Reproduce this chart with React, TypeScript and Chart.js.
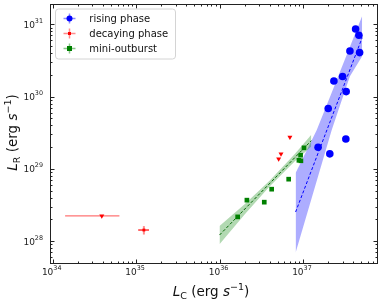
import React, { useEffect, useRef } from "react";
import { Chart, registerables } from "chart.js";
Chart.register(...registerables);

// ---- data (erg s^-1) ----
const risingLC = [4.28e37, 4.69e37, 3.66e37, 4.78e37, 2.99e37, 2.35e37, 3.3e37, 2.01e37, 3.27e37, 1.52e37, 2.1e37];
const risingLR = [8.6e30, 7.05e30, 4.28e30, 4.06e30, 1.89e30, 1.64e30, 1.17e30, 6.82e29, 2.59e29, 1.99e29, 1.61e29];

const miniLC = [1.03e37, 9.38e36, 8.95e36, 9.46e36, 6.75e36, 4.22e36, 2.13e36, 3.44e36, 1.65e36];
const miniLR = [1.95e29, 1.54e29, 1.31e29, 1.29e29, 7.18e28, 5.22e28, 3.68e28, 3.45e28, 2.16e28];

const decayLimLC = [6.98e36, 5.46e36, 5.12e36, 3.88e34];
const decayLimLR = [2.74e29, 1.61e29, 1.37e29, 2.23e28];
const decayLimLCLo = [null, null, null, 1.41e34];
const decayLimLCHi = [null, null, null, 6.31e34];

const decayDetLC = [1.24e35];
const decayDetLR = [1.42e28];
const decayDetLCLo = [1.06e35];
const decayDetLCHi = [1.43e35];
const decayDetLRLo = [1.23e28];
const decayDetLRHi = [1.61e28];

// fits and confidence bands
const risingFitLC = [8.17e36, 5.13e37];
const risingFitLR = [2.52e28, 6.53e30];
const risingBandLC = [8.17e36, 1.46e37, 2.21e37, 2.82e37, 3.66e37, 5.13e37];
const risingBandHi = [8.77e28, 3.42e29, 1.13e30, 2.29e30, 4.88e30, 1.3e31];
const risingBandLo = [6.87e27, 6.71e28, 3.42e29, 7.87e29, 1.91e30, 3.61e30];

const miniFitLC = [1.0e36, 1.26e37];
const miniFitLR = [1.21e28, 2.45e29];
const miniBandLC = [1.0e36, 2.0e36, 3.98e36, 7.94e36, 1.26e37];
const miniBandHi = [1.61e28, 3.22e28, 6.84e28, 1.59e29, 2.95e29];
const miniBandLo = [9.04e27, 2.33e28, 5.69e28, 1.26e29, 2.04e29];

// axis limits and ticks
const xMin = Math.pow(10, 33.968);
const xMax = Math.pow(10, 37.9);
const yMin = Math.pow(10, 27.682);
const yMax = Math.pow(10, 31.281);
const xTickExps = [34, 35, 36, 37];
const yTickExps = [28, 29, 30, 31];

const legendLabels = ["rising phase", "decaying phase", "mini-outburst"];

const F = "'DejaVu Sans', sans-serif";
const pts = (xs: number[], ys: number[]) => xs.map((x, i) => ({ x, y: ys[i] }));

function drawPow(ctx: CanvasRenderingContext2D, x: number, y: number, exp: string, align: string) {
  ctx.font = `9px ${F}`;
  const wb = ctx.measureText("10").width;
  ctx.font = `6.4px ${F}`;
  const we = ctx.measureText(exp).width;
  const total = wb + we;
  const sx = align === "center" ? x - total / 2 : x - total;
  ctx.textAlign = "left";
  ctx.textBaseline = "alphabetic";
  ctx.font = `9px ${F}`;
  ctx.fillText("10", sx, y);
  ctx.font = `6.4px ${F}`;
  ctx.fillText(exp, sx + wb, y - 5);
}

function drawTitle(ctx: CanvasRenderingContext2D, sub: string) {
  const big = 13.5;
  const small = 9.5;
  const parts = [
    { t: "L", f: `italic ${big}px ${F}`, dy: 0 },
    { t: sub, f: `${small}px ${F}`, dy: 3 },
    { t: " (erg ", f: `${big}px ${F}`, dy: 0 },
    { t: "s", f: `italic ${big}px ${F}`, dy: 0 },
    { t: "\u22121", f: `${small}px ${F}`, dy: -6 },
    { t: ")", f: `${big}px ${F}`, dy: 0 },
  ];
  let total = 0;
  const ws = parts.map((p) => {
    ctx.font = p.f;
    const w = ctx.measureText(p.t).width;
    total += w;
    return w;
  });
  let cx = -total / 2;
  ctx.textAlign = "left";
  ctx.textBaseline = "alphabetic";
  parts.forEach((p, i) => {
    ctx.font = p.f;
    ctx.fillText(p.t, cx, p.dy);
    cx += ws[i];
  });
}

const decorPlugin = {
  id: "decor",
  beforeDatasetsDraw(chart: any) {
    const { ctx, scales } = chart;
    const xs = scales.x;
    const ys = scales.y;
    ctx.save();
    ctx.lineWidth = 1.2;
    ctx.strokeStyle = "rgba(255,0,0,0.55)";
    decayLimLC.forEach((_, i) => {
      const lo = decayLimLCLo[i];
      const hi = decayLimLCHi[i];
      if (lo == null || hi == null) return;
      const py = ys.getPixelForValue(decayLimLR[i]);
      ctx.beginPath();
      ctx.moveTo(xs.getPixelForValue(lo), py);
      ctx.lineTo(xs.getPixelForValue(hi), py);
      ctx.stroke();
    });
    decayDetLC.forEach((v, i) => {
      const px = xs.getPixelForValue(v);
      const py = ys.getPixelForValue(decayDetLR[i]);
      ctx.strokeStyle = "rgba(255,0,0,0.9)";
      ctx.lineWidth = 1.3;
      ctx.beginPath();
      ctx.moveTo(xs.getPixelForValue(decayDetLCLo[i]), py);
      ctx.lineTo(xs.getPixelForValue(decayDetLCHi[i]), py);
      ctx.stroke();
      ctx.strokeStyle = "rgba(255,0,0,0.45)";
      ctx.lineWidth = 2;
      ctx.beginPath();
      ctx.moveTo(px, ys.getPixelForValue(decayDetLRLo[i]));
      ctx.lineTo(px, ys.getPixelForValue(decayDetLRHi[i]));
      ctx.stroke();
    });
    ctx.restore();
  },
  afterDraw(chart: any) {
    const { ctx, chartArea: a, scales } = chart;
    const xs = scales.x;
    const ys = scales.y;
    ctx.save();
    // spines
    ctx.strokeStyle = "#222";
    ctx.lineWidth = 1;
    ctx.strokeRect(a.left + 0.5, a.top + 0.5, a.right - a.left - 1, a.bottom - a.top - 1);
    // ticks
    ctx.beginPath();
    for (let e = 33; e <= 37; e++) {
      for (let m = 1; m <= 9; m++) {
        const v = m * Math.pow(10, e);
        if (v < xMin || v > xMax) continue;
        const px = Math.round(xs.getPixelForValue(v)) + 0.5;
        const len = m === 1 ? 4.5 : 2.5;
        ctx.moveTo(px, a.bottom);
        ctx.lineTo(px, a.bottom - len);
        ctx.moveTo(px, a.top);
        ctx.lineTo(px, a.top + len);
      }
    }
    for (let e = 27; e <= 31; e++) {
      for (let m = 1; m <= 9; m++) {
        const v = m * Math.pow(10, e);
        if (v < yMin || v > yMax) continue;
        const py = Math.round(ys.getPixelForValue(v)) + 0.5;
        const len = m === 1 ? 4.5 : 2.5;
        ctx.moveTo(a.left, py);
        ctx.lineTo(a.left + len, py);
        ctx.moveTo(a.right, py);
        ctx.lineTo(a.right - len, py);
      }
    }
    ctx.stroke();
    // tick labels
    ctx.fillStyle = "#222";
    xTickExps.forEach((e) => {
      const px = xs.getPixelForValue(Math.pow(10, e));
      drawPow(ctx, px - 1, 275, String(e), "center");
    });
    yTickExps.forEach((e) => {
      const py = ys.getPixelForValue(Math.pow(10, e));
      drawPow(ctx, a.left - 7, py + 3.5, String(e), "right");
    });
    // axis titles
    ctx.fillStyle = "#111";
    ctx.save();
    ctx.translate(211, 296);
    drawTitle(ctx, "C");
    ctx.restore();
    ctx.save();
    ctx.translate(16.7, 132.5);
    ctx.rotate(-Math.PI / 2);
    drawTitle(ctx, "R");
    ctx.restore();
    // legend
    const bx = 55.5, by = 9, bw = 120, bh = 50, r = 3;
    ctx.beginPath();
    ctx.moveTo(bx + r, by);
    ctx.arcTo(bx + bw, by, bx + bw, by + bh, r);
    ctx.arcTo(bx + bw, by + bh, bx, by + bh, r);
    ctx.arcTo(bx, by + bh, bx, by, r);
    ctx.arcTo(bx, by, bx + bw, by, r);
    ctx.closePath();
    ctx.fillStyle = "rgba(255,255,255,0.85)";
    ctx.fill();
    ctx.strokeStyle = "#d4d4d4";
    ctx.lineWidth = 1;
    ctx.stroke();
    const rows = [18.5, 33.5, 48.5];
    const cols = [
      ["rgba(0,0,255,0.45)", "#0000ff"],
      ["rgba(255,0,0,0.45)", "#ff0000"],
      ["rgba(0,128,0,0.45)", "#008000"],
    ];
    rows.forEach((ry, i) => {
      const mx = 69.5;
      ctx.strokeStyle = cols[i][0];
      ctx.lineWidth = 1.5;
      ctx.beginPath();
      ctx.moveTo(mx - 6, ry);
      ctx.lineTo(mx + 6, ry);
      ctx.moveTo(mx, ry - 5);
      ctx.lineTo(mx, ry + 5);
      ctx.stroke();
      ctx.fillStyle = cols[i][1];
      if (i === 0) {
        ctx.beginPath();
        ctx.arc(mx, ry, 3, 0, Math.PI * 2);
        ctx.fill();
      } else if (i === 1) {
        ctx.fillRect(mx - 1.5, ry - 1.5, 3, 3);
      } else {
        ctx.fillRect(mx - 2.5, ry - 2.5, 5, 5);
      }
      ctx.fillStyle = "#111";
      ctx.font = `10px ${F}`;
      ctx.textAlign = "left";
      ctx.textBaseline = "middle";
      ctx.fillText(legendLabels[i], 89.3, ry + 0.5);
    });
    ctx.restore();
  },
};

export default function App() {
  const ref = useRef<HTMLCanvasElement>(null);
  useEffect(() => {
    const canvas = ref.current;
    if (!canvas) return;
    const line = (xs: number[], ys: number[], extra: any) => ({
      type: "line",
      data: pts(xs, ys),
      pointRadius: 0,
      borderWidth: 0,
      showLine: true,
      tension: 0,
      ...extra,
    });
    const chart = new Chart(canvas, {
      type: "scatter",
      data: {
        datasets: [
          {
            data: pts(risingLC, risingLR),
            backgroundColor: "#0000ff",
            borderColor: "#0000ff",
            pointRadius: 3.8,
            pointStyle: "circle",
            borderWidth: 0,
            order: 1,
          },
          {
            data: pts(miniLC, miniLR),
            backgroundColor: "#008000",
            borderColor: "#008000",
            pointRadius: 3.3,
            pointStyle: "rect",
            borderWidth: 0,
            order: 1,
          },
          {
            data: pts(decayLimLC, decayLimLR),
            backgroundColor: "#ff0000",
            borderColor: "#ff0000",
            pointRadius: 2.9,
            pointStyle: "triangle",
            rotation: 180,
            borderWidth: 0,
            order: 1,
          },
          {
            data: pts(decayDetLC, decayDetLR),
            backgroundColor: "#ff0000",
            borderColor: "#ff0000",
            pointRadius: 2,
            pointStyle: "rect",
            borderWidth: 0,
            order: 1,
          },
          line(risingFitLC, risingFitLR, { borderColor: "#0000ff", borderWidth: 1, borderDash: [3, 2], fill: false, order: 3 }),
          line(miniFitLC, miniFitLR, { borderColor: "#006400", borderWidth: 1, borderDash: [3, 2], fill: false, order: 3 }),
          line(risingBandLC, risingBandHi, { borderColor: "rgba(0,0,0,0)", fill: false, order: 5 }),
          line(risingBandLC, risingBandLo, { borderColor: "rgba(0,0,0,0)", fill: "-1", backgroundColor: "rgba(0,0,255,0.32)", order: 5 }),
          line(miniBandLC, miniBandHi, { borderColor: "rgba(0,0,0,0)", fill: false, order: 4 }),
          line(miniBandLC, miniBandLo, { borderColor: "rgba(0,0,0,0)", fill: "-1", backgroundColor: "rgba(0,128,0,0.3)", order: 4 }),
        ],
      },
      options: {
        animation: false,
        responsive: false,
        devicePixelRatio: 1,
        layout: { padding: { left: 50, right: 4, top: 4, bottom: 37 } },
        scales: {
          x: { type: "logarithmic", min: xMin, max: xMax, display: false },
          y: { type: "logarithmic", min: yMin, max: yMax, display: false },
        },
        plugins: {
          legend: { display: false },
          tooltip: { enabled: false },
        },
      },
      plugins: [decorPlugin],
    } as any);
    return () => chart.destroy();
  }, []);
  return (
    <div style={{ position: "fixed", left: 0, top: 0, width: 382, height: 301, background: "#fff" }}>
      <canvas ref={ref} width={382} height={301} style={{ display: "block" }} />
    </div>
  );
}
